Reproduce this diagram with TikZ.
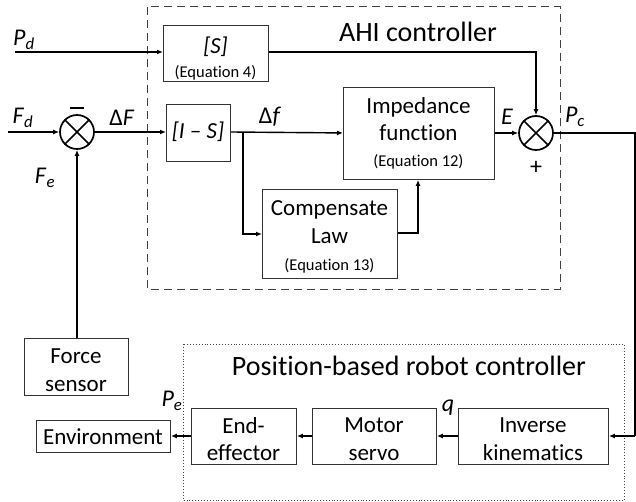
\documentclass[tikz,border=0pt]{standalone}
\usepackage{fontspec}
\setmainfont{Carlito}[Ligatures=NoCommon]
\usetikzlibrary{arrows.meta}
\begin{document}
\begin{tikzpicture}[x=1pt,y=-1pt,
  blk/.style={draw=black!80, line width=0.9pt, inner sep=0pt, anchor=north west},
  con/.style={line width=1.4pt},
  arr/.style={line width=1.4pt, -{Latex[length=6pt,width=5pt]}},
  sumj/.style={draw, circle, line width=1.7pt, minimum size=34pt, inner sep=0pt},
  txt/.style={inner sep=0pt, font=\fontsize{23}{27.5}\selectfont, align=center},
  eq/.style={inner sep=0pt, font=\fontsize{16.5}{18}\selectfont},
  var/.style={inner sep=0pt, font=\fontsize{24}{26}\selectfont},
  ttl/.style={inner sep=0pt, font=\fontsize{28}{30}\selectfont}]
\useasboundingbox (0,0) rectangle (636,502);
% group frames
\draw[black!75, line width=1pt, dash pattern=on 8pt off 5pt] (147,7) rectangle (560,289);
\draw[black!75, line width=0.9pt, dotted] (183,344) rectangle (624,500);
\node[ttl] (ahi) at (418,32) {AHI controller};
\node[ttl] (prc) at (409,366) {Position-based robot controller};
% blocks
\node[blk, minimum width=105pt, minimum height=56pt] (S) at (163,25) {};
\node[txt, font=\fontsize{23}{27}\selectfont\itshape] (St) at (215.5,47) {[S]};
\node[eq] (Se) at (215.5,73) {(Equation 4)};
\node[blk, minimum width=64pt, minimum height=57pt] (IS) at (166,104) {};
\node[txt, font=\fontsize{23}{27}\selectfont\itshape] (ISt) at (198,132) {[I – S]};
\node[blk, minimum width=151pt, minimum height=92pt] (imp) at (343,87) {};
\node[txt] (impt) at (418.5,119) {Impedance\\function};
\node[eq] (impe) at (418.5,162) {(Equation 12)};
\node[blk, minimum width=135pt, minimum height=89pt] (comp) at (262,189) {};
\node[txt] (compt) at (329.5,222) {Compensate\\Law};
\node[eq] (compe) at (329.5,266) {(Equation 13)};
\node[blk, minimum width=104pt, minimum height=57pt] (fs) at (24,338) {};
\node[txt] (fst) at (76,370) {Force\\sensor};
\node[blk, minimum width=134pt, minimum height=32pt] (env) at (36,420) {};
\node[txt] (envt) at (103,437) {Environment};
\node[blk, minimum width=105pt, minimum height=56pt] (ee) at (191,408) {};
\node[txt] (eet) at (243.5,439) {End-\\effector};
\node[blk, minimum width=124pt, minimum height=56pt] (ms) at (312,408) {};
\node[txt] (mst) at (374,439) {Motor\\servo};
\node[blk, minimum width=150pt, minimum height=56pt] (ik) at (458,408) {};
\node[txt] (ikt) at (533,439) {Inverse\\kinematics};
% summing junctions
\node[sumj] (c1) at (77,132) {};
\draw[line width=1.7pt] (c1.north west) -- (c1.south east) (c1.north east) -- (c1.south west);
\node[sumj] (c2) at (536,133) {};
\draw[line width=1.7pt] (c2.north west) -- (c2.south east) (c2.north east) -- (c2.south west);
% coordinates
\coordinate (pdin) at (15,52);
\coordinate (fdin) at (8,132);
\coordinate (sr) at (536,52);
\coordinate (br) at (243,132);
\coordinate (br2) at (243,234);
\coordinate (cr) at (418,233);
\coordinate (pc1) at (635,133);
\coordinate (pc2) at (635,436);
% connectors
\draw[arr] (pdin) -- (pdin -| S.west);
\draw[arr] (S.east |- pdin) -- (sr) -- (c2.north);
\draw[arr] (fdin) -- (c1.west);
\draw[arr] (c1.east) -- (c1.east -| IS.west);
\draw[arr] (IS.east |- c1) -- (IS.east -| imp.west);
\draw[arr] (br) -- (br2) -- (br2 -| comp.west);
\draw[arr] (comp.east |- cr) -- (cr) -- (cr |- imp.south);
\draw[arr] (imp.east |- c2) -- (c2.west);
\draw[con] (c2.east) -- (pc1) -- (pc2);
\draw[arr] (pc2) -- (ik.east |- pc2);
\draw[arr] (ik.west |- pc2) -- (ms.east |- pc2);
\draw[arr] (ms.west |- pc2) -- (ee.east |- pc2);
\draw[arr] (ee.west |- pc2) -- (env.east |- pc2);
\draw[arr] (fs.north -| c1) -- (c1.south);
% labels
\node[var] (lpd) at (24,40) {\textit{P}\textsubscript{\textit{d}}};
\node[var] (lfd) at (23,118) {\textit{F}\textsubscript{\textit{d}}};
\node[var] (lfe) at (45,178) {\textit{F}\textsubscript{\textit{e}}};
\node[var] (ldF) at (122,118) {Δ\textit{F}};
\node[var] (ldf) at (270,117) {Δ\textit{f}};
\node[var] (lE) at (507,117) {\textit{E}};
\node[var] (lpc) at (575,117) {\textit{P}\textsubscript{\textit{c}}};
\node[var] (lpe) at (172,401) {\textit{P}\textsubscript{\textit{e}}};
\node[var] (lq) at (448,408) {\textit{q}};
\draw[line width=1.4pt] (70,108) -- (84,108);
\node[var] (plus) at (536,168) {+};
\end{tikzpicture}
\end{document}
